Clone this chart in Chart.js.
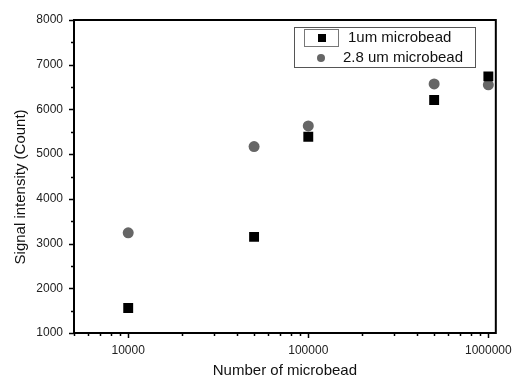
<!DOCTYPE html>
<html lang="en">
<head>
    <meta charset="utf-8" />
    <title>Signal intensity vs number of microbead</title>
    <style>
        html, body { margin: 0; padding: 0; background: #fff; }
        .chart-box { width: 514px; height: 380px; }
    </style>
</head>
<body>
    <div class="chart-box">
        <canvas id="mychart"></canvas>
    </div>
    <script src="https://cdn.jsdelivr.net/npm/chart.js@4.4.1/dist/chart.umd.min.js"></script>
    <script>
        // data
        const beadCounts = [10000, 50000, 100000, 500000, 1000000];
        const signal1um = [1560, 3150, 5390, 6210, 6740];
        const signal28um = [3240, 5170, 5630, 6570, 6550];
        const seriesNames = ['1um microbead', '2.8 um microbead'];
        const yTicks = [1000, 2000, 3000, 4000, 5000, 6000, 7000, 8000];
        const xTicks = [10000, 100000, 1000000];

        const FONT = 'Arial, "Liberation Sans", sans-serif';

        // log minor ticks 5000 .. 1e6
        const xMinor = [];
        for (let d = 1000; d <= 100000; d *= 10) {
            for (let k = 2; k <= 9; k++) {
                const v = k * d;
                if (v >= 5000 && v <= 1000000) xMinor.push(v);
            }
        }

        // axis frame + outward ticks
        const framePlugin = {
            id: 'frame',
            afterDraw(chart) {
                const ctx = chart.ctx;
                const a = chart.chartArea;
                const xs = chart.scales.x;
                const ys = chart.scales.y;
                ctx.save();
                ctx.strokeStyle = '#000';
                ctx.lineWidth = 2;
                ctx.strokeRect(a.left, a.top, a.right - a.left, a.bottom - a.top);

                ctx.lineWidth = 1.5;
                ctx.beginPath();
                for (let v = 1000; v <= 8000; v += 500) {
                    const y = Math.round(ys.getPixelForValue(v)) + 0.5;
                    const len = (v % 1000 === 0) ? 5 : 3;
                    ctx.moveTo(a.left, y);
                    ctx.lineTo(a.left - len, y);
                }
                xMinor.forEach(v => {
                    const x = Math.round(xs.getPixelForValue(v)) + 0.5;
                    ctx.moveTo(x, a.bottom);
                    ctx.lineTo(x, a.bottom + 3);
                });
                xTicks.forEach(v => {
                    const x = Math.round(xs.getPixelForValue(v)) + 0.5;
                    ctx.moveTo(x, a.bottom);
                    ctx.lineTo(x, a.bottom + 5);
                });
                ctx.stroke();
                ctx.restore();
            }
        };

        // Origin style legend inside the plot
        const legendPlugin = {
            id: 'boxLegend',
            afterDraw(chart) {
                const ctx = chart.ctx;
                ctx.save();
                ctx.fillStyle = '#fff';
                ctx.fillRect(294, 27, 181, 41);
                ctx.strokeStyle = '#555';
                ctx.lineWidth = 1;
                ctx.strokeRect(294.5, 27.5, 181, 40);
                // small box round the first symbol
                ctx.strokeStyle = '#777';
                ctx.strokeRect(304.5, 29.5, 34, 17);

                ctx.fillStyle = '#000';
                ctx.fillRect(318, 34, 8, 8);
                ctx.fillStyle = '#666';
                ctx.beginPath();
                ctx.arc(321, 58, 4, 0, Math.PI * 2);
                ctx.fill();

                ctx.fillStyle = '#111';
                ctx.font = '15px ' + FONT;
                ctx.textBaseline = 'middle';
                ctx.textAlign = 'left';
                ctx.fillText(seriesNames[0], 348, 38);
                ctx.fillText(seriesNames[1], 343, 58);
                ctx.restore();
            }
        };

        const toPoints = (ys) => beadCounts.map((x, i) => ({ x: x, y: ys[i] }));

        new Chart(document.getElementById('mychart'), {
            type: 'scatter',
            data: {
                datasets: [{
                    label: seriesNames[0],
                    data: toPoints(signal1um),
                    pointStyle: 'rect',
                    pointRadius: 7,
                    backgroundColor: '#000',
                    borderColor: '#000',
                    borderWidth: 0
                }, {
                    label: seriesNames[1],
                    data: toPoints(signal28um),
                    pointStyle: 'circle',
                    pointRadius: 5.5,
                    backgroundColor: '#666',
                    borderColor: '#666',
                    borderWidth: 0
                }]
            },
            options: {
                responsive: true,
                maintainAspectRatio: false,
                animation: false,
                layout: { padding: { left: 0, right: 16, top: 20, bottom: 0 } },
                plugins: {
                    legend: { display: false },
                    tooltip: { enabled: false }
                },
                scales: {
                    x: {
                        type: 'logarithmic',
                        min: 5000,
                        max: 1100000,
                        grid: { display: false },
                        border: { display: false },
                        afterBuildTicks: (s) => { s.ticks = xTicks.map(v => ({ value: v })); },
                        afterFit: (s) => { s.height = 47; },
                        ticks: {
                            autoSkip: false,
                            maxRotation: 0,
                            padding: 2,
                            color: '#222',
                            font: { family: FONT, size: 12 },
                            callback: (v) => String(v)
                        },
                        title: {
                            display: true,
                            text: 'Number of microbead',
                            color: '#111',
                            font: { family: FONT, size: 15 },
                            padding: { top: 0, bottom: 0 }
                        }
                    },
                    y: {
                        min: 1000,
                        max: 8000,
                        grid: { display: false },
                        border: { display: false },
                        afterBuildTicks: (s) => { s.ticks = yTicks.map(v => ({ value: v })); },
                        afterFit: (s) => { s.width = 74; },
                        ticks: {
                            padding: 3,
                            color: '#222',
                            font: { family: FONT, size: 12 },
                            callback: (v) => String(v)
                        },
                        title: {
                            display: true,
                            // trailing spaces push the visible text a little lower, as in the source
                            text: 'Signal intensity (Count)     ',
                            color: '#111',
                            font: { family: FONT, size: 15 },
                            padding: { top: 12, bottom: 0 }
                        }
                    }
                }
            },
            plugins: [framePlugin, legendPlugin]
        });
    </script>
</body>
</html>
